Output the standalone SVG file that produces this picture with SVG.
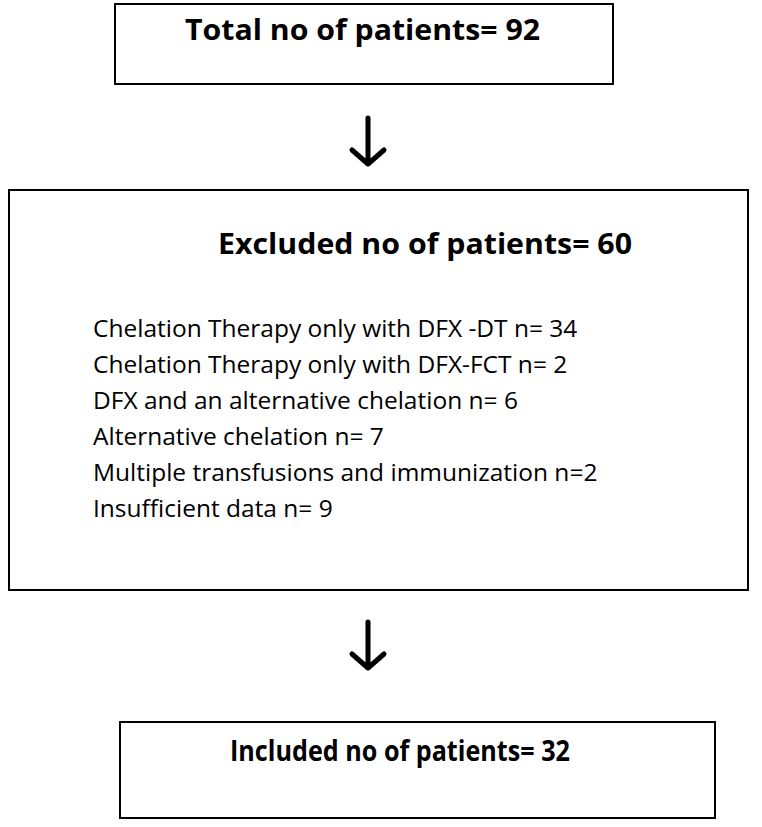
<svg xmlns="http://www.w3.org/2000/svg" width="762" height="827" viewBox="0 0 762 827">
<style>
.box{fill:#fff;stroke:#000;stroke-width:2}
.t{font-family:"Open Sans","Liberation Sans",sans-serif;fill:#000}
.b{font-weight:bold;font-size:29px}
.n{font-size:24.5px}
.arr{fill:none;stroke:#000;stroke-width:5;stroke-linecap:round;stroke-linejoin:round}
</style>
<rect width="762" height="827" fill="#fff"/>
<g id="total"><rect class="box" x="115" y="4" width="498" height="80"/>
<text class="t b" x="185" y="40" textLength="355" lengthAdjust="spacingAndGlyphs">Total no of patients= 92</text></g>
<g id="excluded"><rect class="box" x="9" y="190" width="739" height="400"/>
<text class="t b" x="218" y="254" textLength="414" lengthAdjust="spacingAndGlyphs">Excluded no of patients= 60</text>
<text class="t n" x="93" y="337">Chelation Therapy only with DFX -DT n= 34</text>
<text class="t n" x="93" y="373">Chelation Therapy only with DFX-FCT n= 2</text>
<text class="t n" x="93" y="409">DFX and an alternative chelation n= 6</text>
<text class="t n" x="93" y="445">Alternative chelation n= 7</text>
<text class="t n" x="93" y="481">Multiple transfusions and immunization n=2</text>
<text class="t n" x="93" y="517">Insufficient data n= 9</text></g>
<g id="included"><rect class="box" x="120" y="722" width="595" height="96"/>
<text class="t b" x="230" y="761" textLength="340" lengthAdjust="spacingAndGlyphs">Included no of patients= 32</text></g>
<g id="connectors">
<path class="arr" d="M368 118V163M352 150L368 164L384 150"/>
<path class="arr" d="M368 622V667M352 654L368 668L384 654"/>
</g>
</svg>
